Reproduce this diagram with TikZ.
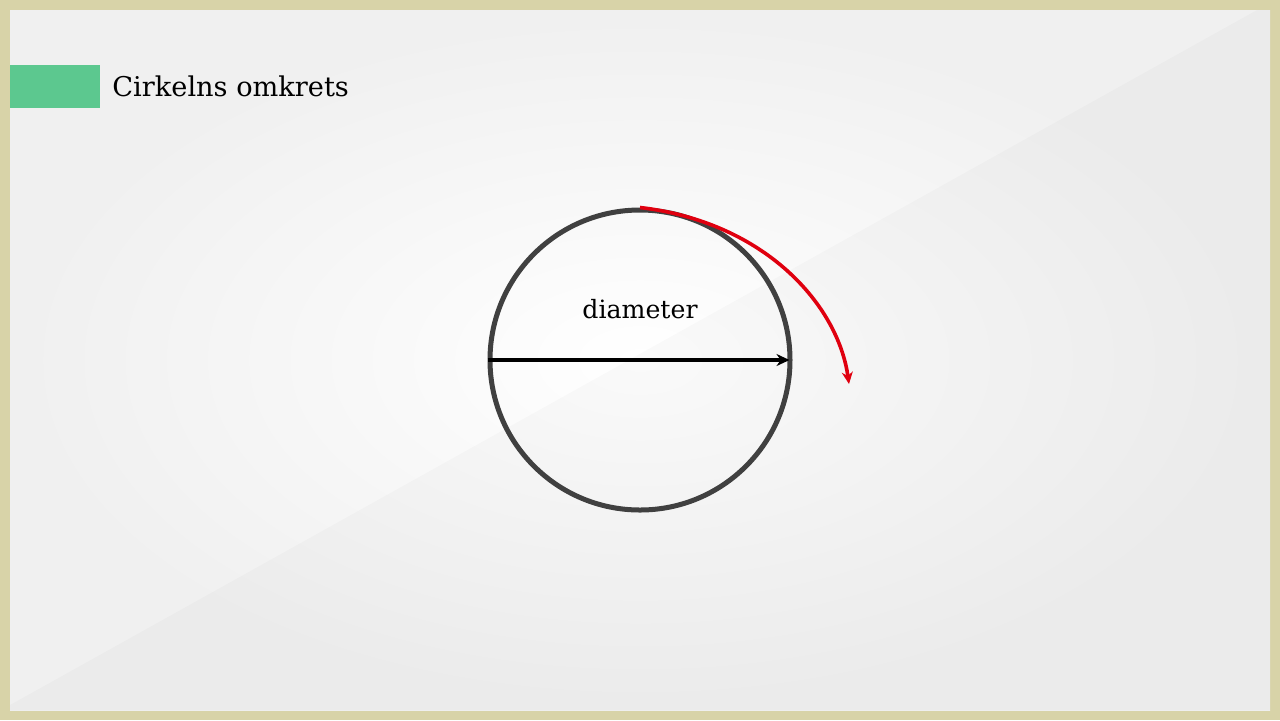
\documentclass[tikz,border=0pt]{standalone}
\usepackage{fontspec}
\setmainfont{DejaVu Serif}
\usetikzlibrary{arrows.meta}

\definecolor{frameclr}{HTML}{D8D3A8}
\definecolor{tabclr}{HTML}{5CC88F}
\definecolor{ringclr}{HTML}{404040}
\definecolor{arcclr}{HTML}{E0000F}

\begin{document}
\begin{tikzpicture}[x=0.5pt,y=-0.5pt]
                % background
                \fill[frameclr] (0,0) rectangle (1280,720);
                \shade[inner color=white,outer color=gray!12] (10,10) rectangle (1270,710);
                \fill[black,opacity=0.02] (10,705) -- (1257,10) -- (1270,10) -- (1270,710) -- (10,710) -- cycle;
                \useasboundingbox (0,0) rectangle (1280,720);

                \fill[tabclr] (10,65) rectangle (100,108);
                \node[anchor=west,inner sep=0pt,font=\fontsize{13.6}{16}\selectfont] (title) at (112,86) {Cirkelns omkrets};

                \node[circle,draw=ringclr,line width=2.5pt,minimum size=150pt,inner sep=0pt] (ring) at (640,360) {};
                \node[font=\fontsize{12.6}{15}\selectfont] (lbl) at (640,309) {diameter};
                \coordinate (arcend) at (849,384);

                \draw[-{Stealth[length=6.5pt,width=6pt]},line width=2pt,shorten >=1.5pt] (ring.west) -- (ring.east);
                \draw[-{Stealth[length=6pt,width=5.5pt]},arcclr,line width=1.8pt] (ring.north) .. controls (765,222) and (838,305) .. (arcend);
            \end{tikzpicture}
\end{document}
